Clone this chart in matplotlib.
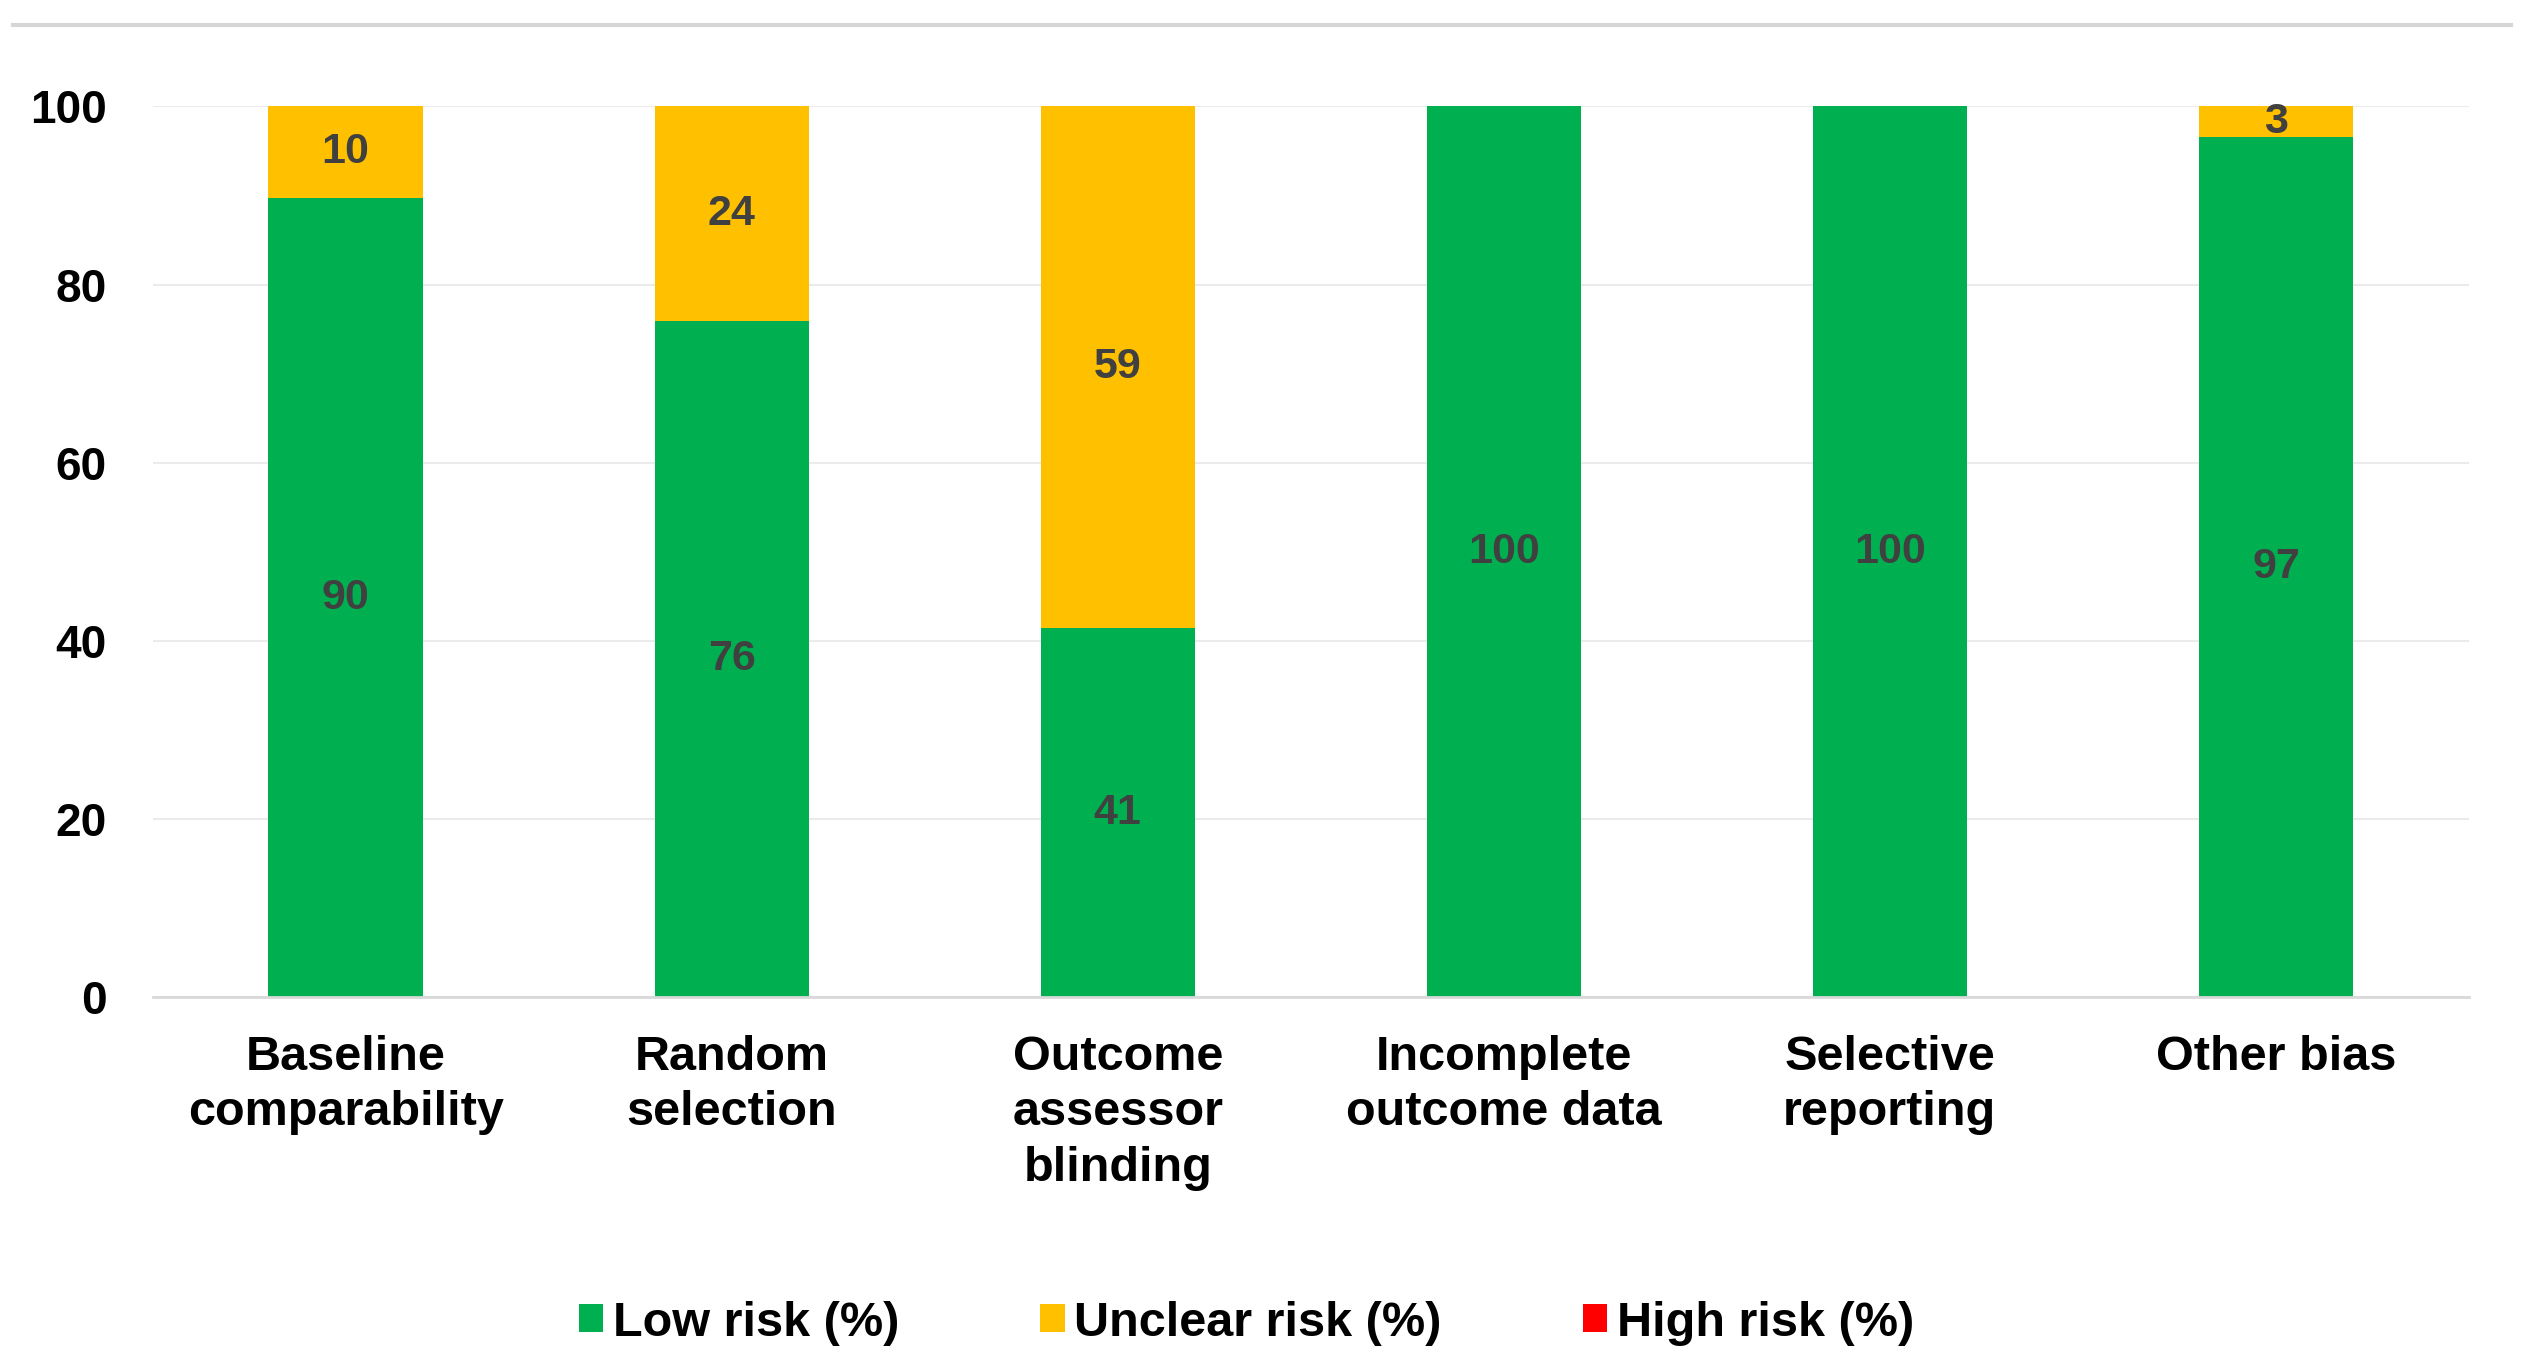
import matplotlib.pyplot as plt
from matplotlib.lines import Line2D
import numpy as np

plt.rcParams['font.family'] = ['Liberation Sans', 'DejaVu Sans']

# risk of bias summary (% of 29 studies)
domains = ["Baseline\ncomparability", "Random\nselection", "Outcome\nassessor\nblinding",
           "Incomplete\noutcome data", "Selective\nreporting", "Other bias"]
low_risk = [89.7, 75.9, 41.4, 100, 100, 96.6]
unclear_risk = [10.3, 24.1, 58.6, 0, 0, 3.4]
high_risk = [0, 0, 0, 0, 0, 0]

series = [("Low risk (%)", low_risk, "#00B050"),
          ("Unclear risk (%)", unclear_risk, "#FFC000"),
          ("High risk (%)", high_risk, "#FF0000")]

fig = plt.figure(figsize=(25.44, 13.64), dpi=100)
ax = fig.add_axes([0.060, 0.269, 0.9105, 0.653])

x = np.arange(len(domains))
bottom = np.zeros(len(domains))
for name, vals, color in series:
    vals = np.array(vals, dtype=float)
    ax.bar(x, vals, 0.4, bottom=bottom, color=color, label=name, zorder=2)
    for xi, b, v in zip(x, bottom, vals):
        if v > 0:
            ax.text(xi, b + v / 2, "%.0f" % v, ha='center', va='center',
                    fontsize=31, fontweight='bold', color='#404040', zorder=3)
    bottom += vals

ax.set_xlim(-0.5, len(domains) - 0.5)
ax.set_ylim(0, 100)
ax.set_yticks(range(0, 101, 20))
ax.yaxis.grid(True, color='#EBEBEB', linewidth=1.5, zorder=0)
ax.set_axisbelow(True)
for s in ['top', 'right', 'left']:
    ax.spines[s].set_visible(False)
ax.spines['bottom'].set_color('#D9D9D9')
ax.spines['bottom'].set_linewidth(2)
ax.tick_params(axis='y', length=0, pad=33, labelsize=33)
ax.tick_params(axis='x', length=0, pad=27, labelsize=35)
ax.set_xticks(x)
ax.set_xticklabels(domains, fontweight='bold', linespacing=1.3)
for lbl in ax.get_yticklabels():
    lbl.set_fontweight('bold')

fig.legend(loc='center', bbox_to_anchor=(0.49, 0.03), ncol=3, frameon=False,
           prop={'size': 35, 'weight': 'bold'}, handlelength=0.5, handleheight=0.5,
           handletextpad=0.2, columnspacing=2.9)

# chart frame line at the top
fig.add_artist(Line2D([0.005, 0.987], [0.982, 0.982], color='#D6D6D6', linewidth=3,
                      transform=fig.transFigure))

fig.savefig('out.png', dpi=100, facecolor='white')
